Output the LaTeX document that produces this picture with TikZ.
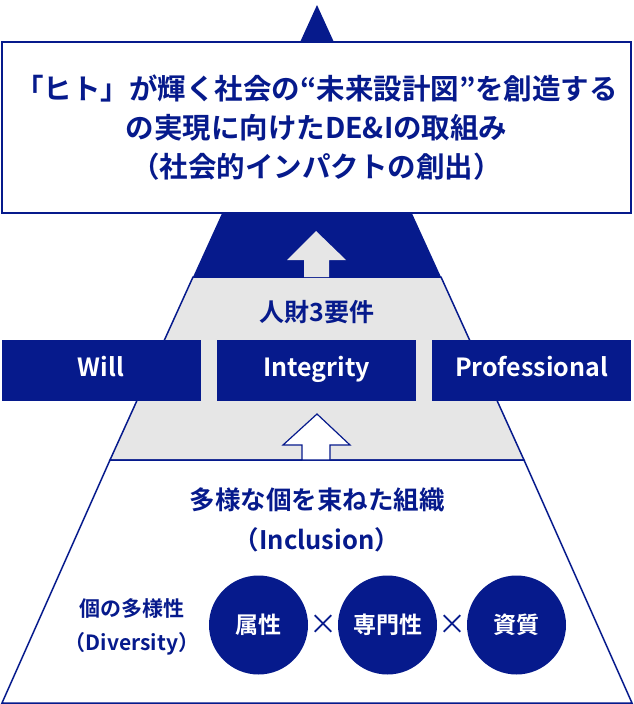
\documentclass[tikz,border=0pt]{standalone}
\usepackage{fontspec}
\setmainfont{Noto Sans CJK JP}[BoldFont={* Bold}]
\definecolor{navy}{HTML}{061A8C}
\definecolor{lgray}{HTML}{E6E6E6}
\begin{document}
\begin{tikzpicture}[x=1pt,y=-1pt,
  txt/.style={text=navy,font=\bfseries},
  banner/.style={fill=navy,minimum width=199pt,minimum height=61pt,inner sep=0pt,text=white,text height=18pt,text depth=6pt,font=\fontsize{25}{28}\selectfont\bfseries},
  circ/.style={circle,fill=navy,minimum size=99pt,inner sep=0pt,text=white,font=\fontsize{23}{26}\selectfont\bfseries}]
\useasboundingbox (0,0) rectangle (634,704);
% pyramid bands
\fill[navy] (317,5) -- (441,277) -- (193,277) -- cycle;
\filldraw[fill=lgray,draw=navy,line width=1.5pt] (193,277) -- (441,277) -- (524,460) -- (110,460) -- cycle;
\draw[navy,line width=1.5pt] (110,460) -- (524,460) -- (632,703) -- (2,703) -- cycle;
% top box
\node[draw=navy,line width=1.5pt,fill=white,minimum width=629pt,minimum height=171pt,inner sep=0pt,
  align=center,text=navy,font=\fontsize{28.5}{39}\selectfont\bfseries] (goal) at (316.5,127.5)
  {「ヒト」が輝く社会の“未来設計図”を創造する\\の実現に向けたDE\&Iの取組み\\（社会的インパクトの創出）};
% arrows
\fill[lgray] (316,231) -- (346,260) -- (329,260) -- (329,277) -- (304,277) -- (304,260) -- (287,260) -- cycle;
\filldraw[fill=white,draw=navy,line width=1.2pt] (317,414) -- (350,445) -- (330,445) -- (330,460) -- (302,460) -- (302,445) -- (283,445) -- cycle;
% banners
\node[txt,font=\fontsize{25}{28}\selectfont\bfseries] (req) at (317,312) {人財3要件};
\node[banner] (will) at (101,370) {Will};
\node[banner] (integ) at (316.5,370) {Integrity};
\node[banner] (prof) at (531.5,370) {Professional};
% bottom
\node[txt,align=center,font=\fontsize{25.5}{40}\selectfont\bfseries] (incl) at (317,520) {多様な個を束ねた組織\\（Inclusion）};
\node[txt,align=center,font=\fontsize{21}{34}\selectfont\bfseries] (div) at (132,627) {個の多様性\\（Diversity）};
\node[circ] (c1) at (258.5,625) {属性};
\node[circ] (c2) at (387.5,625) {専門性};
\node[circ] (c3) at (516.5,625) {資質};
\node[txt,font=\fontsize{28}{30}\selectfont] (x1) at (323,625) {×};
\node[txt,font=\fontsize{28}{30}\selectfont] (x2) at (452,625) {×};
\end{tikzpicture}
\end{document}
